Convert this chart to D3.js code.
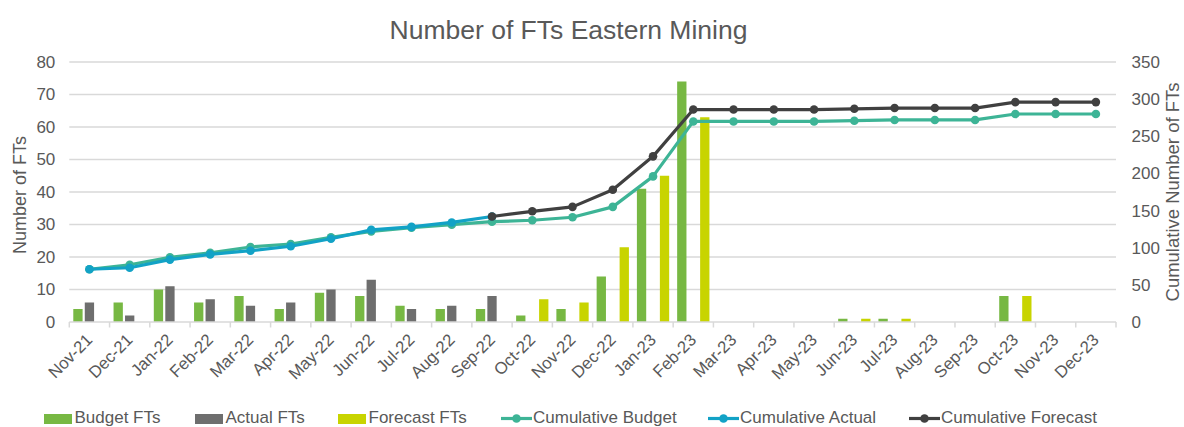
<!DOCTYPE html>
<html>
<head>
<meta charset="utf-8">
<script src="https://cdn.jsdelivr.net/npm/d3@7"></script>
<style>
  html, body { margin: 0; padding: 0; background: #fff; }
  svg { display: block; font-family: "Liberation Sans", Arial, sans-serif; }
</style>
</head>
<body>
<svg id="chart" width="1184" height="427"></svg>
<script>
// ---- Data ----
const months = ["Nov-21","Dec-21","Jan-22","Feb-22","Mar-22","Apr-22","May-22","Jun-22","Jul-22","Aug-22","Sep-22","Oct-22","Nov-22","Dec-22","Jan-23","Feb-23","Mar-23","Apr-23","May-23","Jun-23","Jul-23","Aug-23","Sep-23","Oct-23","Nov-23","Dec-23"];
const budgetFTs   = [4,6,10,6,8,4,9,8,5,4,4,2,4,14,41,74,0,0,0,1,1,0,0,8,0,0];
const actualFTs   = [6,2,11,7,5,6,10,13,4,5,8,null,null,null,null,null,null,null,null,null,null,null,null,null,null,null];
const forecastFTs = [null,null,null,null,null,null,null,null,null,null,null,7,6,23,45,63,null,null,null,1,1,null,null,8,null,null];
const cumBudget   = [71,77,87,93,101,105,114,122,127,131,135,137,141,155,196,270,270,270,270,271,272,272,272,280,280,280];
const cumActual   = [71,73,84,91,96,102,112,124,128,134,142,null,null,null,null,null,null,null,null,null,null,null,null,null,null,null];
const cumForecast = [null,null,null,null,null,null,null,null,null,null,142,149,155,178,223,286,286,286,286,287,288,288,288,296,296,296];
const leftTicks  = [0,10,20,30,40,50,60,70,80];
const rightTicks = [0,50,100,150,200,250,300,350];
const legendLabels = ["Budget FTs","Actual FTs","Forecast FTs","Cumulative Budget","Cumulative Actual","Cumulative Forecast"];

// ---- Styles / layout ----
const colors = {
  budget: "#77B843", actual: "#6E6E6E", forecast: "#C8D400",
  cumBudget: "#3DB496", cumActual: "#12A2C6", cumForecast: "#404040"
};
const textColor = "#595959";
const gridColor = "#D9D9D9";
const plot = { left: 69.3, right: 1116, top: 62, bottom: 322 };

const svg = d3.select("#chart");

const x = d3.scaleBand().domain(months).range([plot.left, plot.right]).padding(0);
const bw = x.bandwidth();
const xs = d3.scaleBand().domain(["budget","actual","forecast"])
  .range([bw*0.072, bw*0.928]).paddingInner(0.19).paddingOuter(0.095);
const yL = d3.scaleLinear().domain([0,80]).range([plot.bottom, plot.top]);
const yR = d3.scaleLinear().domain([0,350]).range([plot.bottom, plot.top]);

// Title
svg.append("text")
  .attr("x", 568.5).attr("y", 39)
  .attr("text-anchor", "middle")
  .attr("font-size", 26.5)
  .attr("fill", textColor)
  .text("Number of FTs Eastern Mining");

// Gridlines
svg.append("g").selectAll("line")
  .data(leftTicks.filter(d => d > 0))
  .join("line")
  .attr("x1", plot.left).attr("x2", plot.right)
  .attr("y1", d => yL(d)).attr("y2", d => yL(d))
  .attr("stroke", gridColor).attr("stroke-width", 1.3);

// Bars
const barSeries = [
  { key: "budget", values: budgetFTs, color: colors.budget },
  { key: "actual", values: actualFTs, color: colors.actual },
  { key: "forecast", values: forecastFTs, color: colors.forecast }
];
const barsG = svg.append("g");
barSeries.forEach(s => {
  barsG.append("g").selectAll("rect")
    .data(s.values.map((v, i) => ({ v, m: months[i] })).filter(d => d.v != null && d.v > 0))
    .join("rect")
    .attr("x", d => x(d.m) + xs(s.key))
    .attr("width", xs.bandwidth())
    .attr("y", d => yL(d.v))
    .attr("height", d => yL(0) - yL(d.v))
    .attr("fill", s.color);
});

// X axis line and category ticks
svg.append("line")
  .attr("x1", plot.left).attr("x2", plot.right)
  .attr("y1", plot.bottom).attr("y2", plot.bottom)
  .attr("stroke", gridColor).attr("stroke-width", 1.5);
svg.append("g").selectAll("line")
  .data(months.map(m => x(m)).concat([plot.right]))
  .join("line")
  .attr("x1", d => d).attr("x2", d => d)
  .attr("y1", plot.bottom).attr("y2", plot.bottom + 5.5)
  .attr("stroke", gridColor).attr("stroke-width", 1.5);

// X axis labels
const xAxisG = svg.append("g")
  .attr("transform", `translate(0,${plot.bottom})`)
  .call(d3.axisBottom(x).tickSize(0).tickSizeOuter(0));
xAxisG.select(".domain").remove();
xAxisG.selectAll("text")
  .attr("font-size", 16.8)
  .attr("font-family", "'Liberation Sans', Arial, sans-serif")
  .attr("fill", textColor)
  .attr("text-anchor", "end")
  .attr("y", 0).attr("dy", 0)
  .attr("transform", "translate(4,19) rotate(-45)");

// Left axis
const yLG = svg.append("g")
  .attr("transform", `translate(${plot.left},0)`)
  .call(d3.axisLeft(yL).tickValues(leftTicks).tickSize(0).tickPadding(14));
yLG.select(".domain").remove();
yLG.selectAll("text")
  .attr("font-size", 17)
  .attr("font-family", "'Liberation Sans', Arial, sans-serif")
  .attr("fill", textColor);

// Right axis
const yRG = svg.append("g")
  .attr("transform", `translate(${plot.right},0)`)
  .call(d3.axisRight(yR).tickValues(rightTicks).tickSize(0).tickPadding(15.5));
yRG.select(".domain").remove();
yRG.selectAll("text")
  .attr("font-size", 17)
  .attr("font-family", "'Liberation Sans', Arial, sans-serif")
  .attr("fill", textColor);

// Axis titles
svg.append("text")
  .attr("transform", `translate(26,${(plot.top + plot.bottom) / 2 + 3}) rotate(-90)`)
  .attr("text-anchor", "middle")
  .attr("font-size", 18)
  .attr("fill", textColor)
  .text("Number of FTs");
svg.append("text")
  .attr("transform", `translate(1179,${(plot.top + plot.bottom) / 2}) rotate(-90)`)
  .attr("text-anchor", "middle")
  .attr("font-size", 18.5)
  .attr("fill", textColor)
  .text("Cumulative Number of FTs");

// Lines
const lineSeries = [
  { values: cumBudget, color: colors.cumBudget },
  { values: cumActual, color: colors.cumActual },
  { values: cumForecast, color: colors.cumForecast }
];
const line = d3.line()
  .defined(d => d.v != null)
  .x(d => x(d.m) + bw / 2)
  .y(d => yR(d.v));
lineSeries.forEach(s => {
  const pts = s.values.map((v, i) => ({ v, m: months[i] }));
  const g = svg.append("g");
  g.append("path")
    .datum(pts)
    .attr("d", line)
    .attr("fill", "none")
    .attr("stroke", s.color)
    .attr("stroke-width", 3.2)
    .attr("stroke-linejoin", "round");
  g.selectAll("circle")
    .data(pts.filter(d => d.v != null))
    .join("circle")
    .attr("cx", d => x(d.m) + bw / 2)
    .attr("cy", d => yR(d.v))
    .attr("r", 4.3)
    .attr("fill", s.color);
});

// Legend
const legendX = [44, 195, 338, 501, 708, 909];
const legendTypes = ["bar","bar","bar","line","line","line"];
const legendColors = [colors.budget, colors.actual, colors.forecast, colors.cumBudget, colors.cumActual, colors.cumForecast];
const legendY = 423;
const lg = svg.append("g");
legendLabels.forEach((lab, i) => {
  const gx = legendX[i];
  if (legendTypes[i] === "bar") {
    lg.append("rect").attr("x", gx).attr("y", 414).attr("width", 28).attr("height", 10)
      .attr("fill", legendColors[i]);
    lg.append("text").attr("x", gx + 30.5).attr("y", legendY)
      .attr("font-size", 17).attr("fill", textColor).text(lab);
  } else {
    lg.append("line").attr("x1", gx).attr("x2", gx + 31).attr("y1", 418.5).attr("y2", 418.5)
      .attr("stroke", legendColors[i]).attr("stroke-width", 3.2);
    lg.append("circle").attr("cx", gx + 15.5).attr("cy", 418.5).attr("r", 4.3)
      .attr("fill", legendColors[i]);
    lg.append("text").attr("x", gx + 32).attr("y", legendY)
      .attr("font-size", 17).attr("fill", textColor).text(lab);
  }
});
</script>
</body>
</html>
